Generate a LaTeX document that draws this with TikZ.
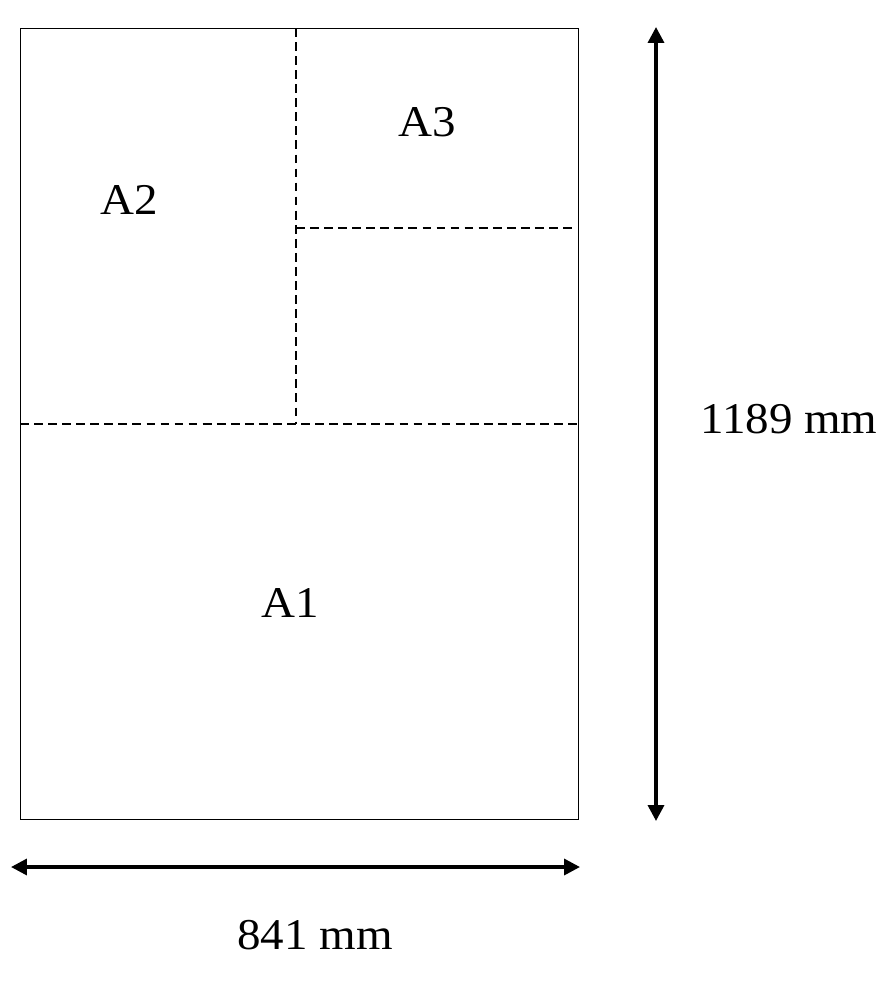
\documentclass[tikz,border=0pt]{standalone}
\usepackage{fontspec}
\setmainfont{Liberation Serif}
\usetikzlibrary{arrows.meta,positioning}
\tikzset{
    sheet/.style = {
        draw,
        thin,
        },
    fold/.style = {
        draw,
        semithick,
        dash pattern=on 5pt off 3pt,
        },
    size label/.style = {
        font=\fontsize{25}{30}\selectfont,
        xscale=1.07,
        },
    dim arrow/.style = {
        draw,
        line width=2pt,
        {Triangle[length=9pt,width=9pt]}-{Triangle[length=9pt,width=9pt]},
        },
}
\begin{document}
\begin{tikzpicture}[x=0.02cm,y=-0.02cm]
            \useasboundingbox (0,0) rectangle (895,984);
            \coordinate (tl) at (20,28);
            \coordinate (br) at (578,819);
            \coordinate (ml) at (20,424);
            \coordinate (mr) at (578,424);
            \coordinate (mt) at (296,28);
            \coordinate (mm) at (296,424);
            \coordinate (ql) at (296,228);
            \coordinate (qr) at (573,228);

            \draw[sheet] (tl) rectangle (br);
            \draw[fold] (ml) -- (mr);
            \draw[fold] (mt) -- (mm);
            \draw[fold] (ql) -- (qr);

            \node[size label] (a1) at (290,603) {A1};
            \node[size label] (a2) at (129,200) {A2};
            \node[size label] (a3) at (427,122) {A3};

            \coordinate (vtop) at (656,27);
            \coordinate (vbot) at (656,821);
            \coordinate (hleft) at (11,867);
            \coordinate (hright) at (580,867);
            \path[dim arrow] (vtop) -- (vbot);
            \path[dim arrow] (hleft) -- (hright);

            \node[size label] (height) at (789,419) {1189 mm};
            \node[size label] (width) at (315,935) {841 mm};
        \end{tikzpicture}
\end{document}
